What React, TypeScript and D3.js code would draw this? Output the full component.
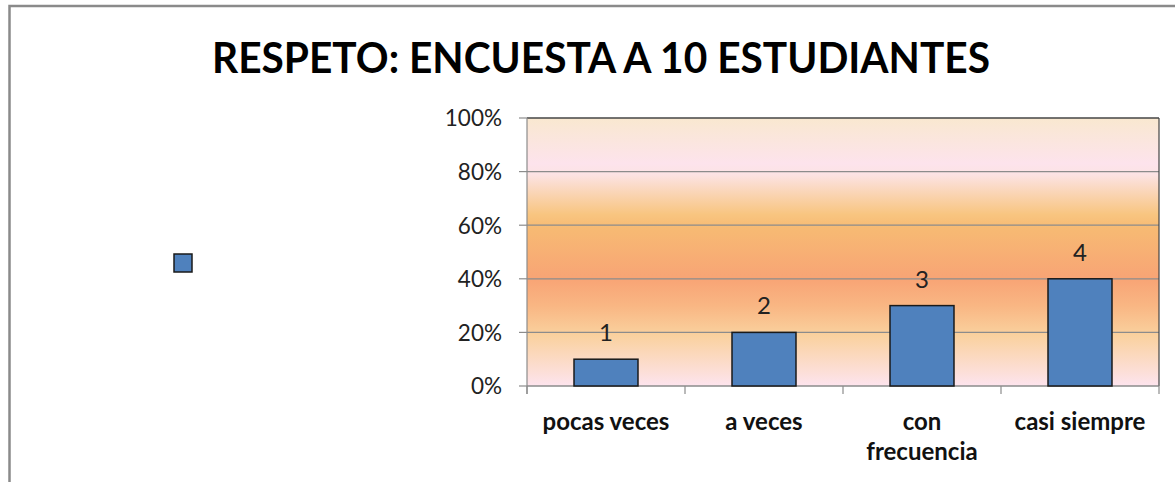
import React from "react";
import * as d3 from "d3";

const categories = ["pocas veces", "a veces", "con frecuencia", "casi siempre"];
const categoryLines = [["pocas veces"], ["a veces"], ["con", "frecuencia"], ["casi siempre"]];
const values = [0.1, 0.2, 0.3, 0.4];
const dataLabels = ["1", "2", "3", "4"];
const yTicks = [0, 0.2, 0.4, 0.6, 0.8, 1.0];
const title = "RESPETO: ENCUESTA A 10 ESTUDIANTES";

const W = 1175;
const H = 482;
const plot = { left: 527, right: 1159, top: 118, bottom: 386 };
const FONT = "Lato, 'Open Sans', 'Noto Sans', sans-serif";

export default function App() {
  const y = d3.scaleLinear().domain([0, 1]).range([plot.bottom, plot.top]);
  const x = d3
    .scaleBand<string>()
    .domain(categories)
    .range([plot.left, plot.right])
    .paddingInner(0.595)
    .paddingOuter(0.2975);
  const xb = d3.scaleLinear().domain([0, categories.length]).range([plot.left, plot.right]);
  const fmt = d3.format(".0%");
  const cx = (c: string) => (x(c) as number) + x.bandwidth() / 2;

  return (
    <svg
      width={W}
      height={H}
      style={{ position: "absolute", left: 0, top: 0, background: "#fff" }}
      fontFamily={FONT}
    >
      <defs>
        <linearGradient id="bg" x1="0" y1="0" x2="0" y2="1">
          <stop offset="0" stopColor="#F9E8D0" />
          <stop offset="0.17" stopColor="#FDE3EC" />
          <stop offset="0.21" stopColor="#FCE3E4" />
          <stop offset="0.36" stopColor="#F8C580" />
          <stop offset="0.41" stopColor="#F7BA73" />
          <stop offset="0.60" stopColor="#F8A475" />
          <stop offset="0.70" stopColor="#F9B683" />
          <stop offset="0.81" stopColor="#FAD19E" />
          <stop offset="1" stopColor="#FDE4EE" />
        </linearGradient>
      </defs>

      {/* outer chart border */}
      <rect x={9.5} y={6} width={W + 20} height={H + 20} fill="none" stroke="#8A8A8A" strokeWidth={2.5} />

      {/* title */}
      <text
        x={601}
        y={73}
        textAnchor="middle"
        fontSize={42}
        fontWeight="bold"
        fill="#000"
        textLength={778}
        lengthAdjust="spacingAndGlyphs"
      >
        {title}
      </text>

      {/* legend marker */}
      <rect x={174} y={254} width={18} height={18} fill="#4F81BD" stroke="#1a1a1a" strokeWidth={1.5} />

      {/* plot background */}
      <rect
        x={plot.left}
        y={plot.top}
        width={plot.right - plot.left}
        height={plot.bottom - plot.top}
        fill="url(#bg)"
      />

      {/* gridlines */}
      {yTicks.map((t) => (
        <line
          key={"g" + t}
          x1={plot.left}
          x2={plot.right}
          y1={y(t)}
          y2={y(t)}
          stroke="#8C8C8C"
          strokeWidth={1.2}
        />
      ))}
      {/* plot top & right border */}
      <line x1={plot.left} x2={plot.right} y1={plot.top} y2={plot.top} stroke="#222" strokeWidth={1.2} />
      <line x1={plot.right} x2={plot.right} y1={plot.top} y2={plot.bottom} stroke="#444" strokeWidth={1.2} />

      {/* y axis */}
      <line x1={plot.left} x2={plot.left} y1={plot.top} y2={plot.bottom + 8} stroke="#8C8C8C" strokeWidth={1.2} />
      {yTicks.map((t) => (
        <g key={"yt" + t}>
          <line x1={plot.left - 8} x2={plot.left} y1={y(t)} y2={y(t)} stroke="#8C8C8C" strokeWidth={1.2} />
          <text x={502} y={y(t)} dy="0.37em" textAnchor="end" fontSize={22.5} fill="#222">
            {fmt(t)}
          </text>
        </g>
      ))}

      {/* x axis ticks */}
      {d3.range(categories.length + 1).map((i) => (
        <line
          key={"xt" + i}
          x1={xb(i)}
          x2={xb(i)}
          y1={plot.bottom}
          y2={plot.bottom + 8}
          stroke="#8C8C8C"
          strokeWidth={1.2}
        />
      ))}
      <line x1={plot.left} x2={plot.right} y1={plot.bottom} y2={plot.bottom} stroke="#8C8C8C" strokeWidth={1.2} />

      {/* bars */}
      {categories.map((c, i) => (
        <rect
          key={"b" + c}
          x={x(c)}
          y={y(values[i])}
          width={x.bandwidth()}
          height={plot.bottom - y(values[i])}
          fill="#4F81BD"
          stroke="#1a1a1a"
          strokeWidth={1.5}
        />
      ))}

      {/* data labels */}
      {categories.map((c, i) => (
        <text
          key={"dl" + c}
          x={cx(c)}
          y={y(values[i]) - 18}
          textAnchor="middle"
          fontSize={24}
          fill="#222"
        >
          {dataLabels[i]}
        </text>
      ))}

      {/* category labels */}
      {categories.map((c, i) => (
        <text
          key={"cl" + c}
          x={cx(c)}
          y={430}
          textAnchor="middle"
          fontSize={24}
          fontWeight="bold"
          fill="#111"
        >
          {categoryLines[i].map((line, j) => (
            <tspan key={j} x={cx(c)} dy={j === 0 ? 0 : 30}>
              {line}
            </tspan>
          ))}
        </text>
      ))}
    </svg>
  );
}
